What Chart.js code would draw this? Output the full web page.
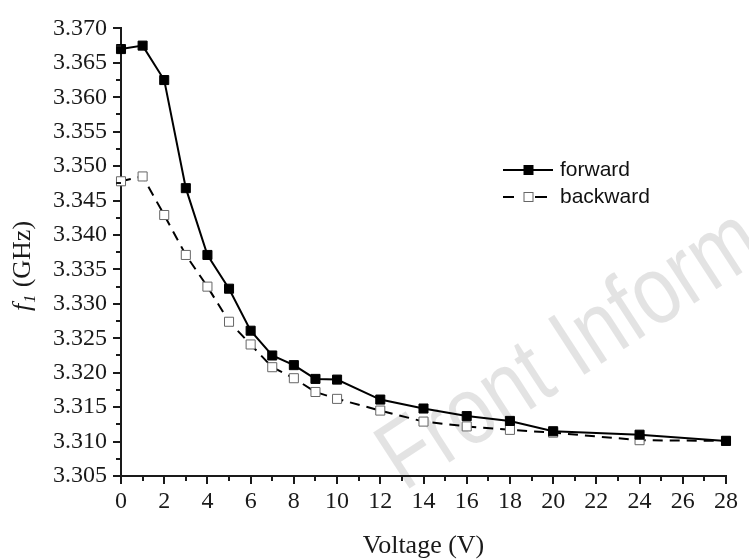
<!DOCTYPE html>
<html>
<head>
<meta charset="utf-8">
<script src="https://cdn.jsdelivr.net/npm/chart.js@4.4.1/dist/chart.umd.min.js"></script>
<style>
  html, body { margin: 0; padding: 0; background: #fff; }
  #wrap { width: 749px; height: 559px; position: relative; }
</style>
</head>
<body>
<div id="wrap"><canvas id="c" width="749" height="559"></canvas></div>
<script>
// Bias voltage (V)
const voltage = [0, 1, 2, 3, 4, 5, 6, 7, 8, 9, 10, 12, 14, 16, 18, 20, 24, 28];
// Resonance frequency f1 (GHz), forward sweep
const forward = [3.3670, 3.3675, 3.3625, 3.3468, 3.3371, 3.3322, 3.3261, 3.3225, 3.3211,
                 3.3191, 3.3190, 3.3161, 3.3148, 3.3137, 3.3130, 3.3115, 3.3110, 3.3101];
// Resonance frequency f1 (GHz), backward sweep
const backward = [3.3478, 3.3485, 3.3429, 3.3371, 3.3325, 3.3274, 3.3241, 3.3208, 3.3192,
                  3.3172, 3.3162, 3.3145, 3.3129, 3.3122, 3.3117, 3.3113, 3.3102, 3.3101];

const xTicks = [0, 2, 4, 6, 8, 10, 12, 14, 16, 18, 20, 22, 24, 26, 28];
const yTicks = [3.305, 3.310, 3.315, 3.320, 3.325, 3.330, 3.335, 3.340, 3.345, 3.350, 3.355, 3.360, 3.365, 3.370];
const seriesNames = ['forward', 'backward'];

const SERIF = '"Liberation Serif", "Times New Roman", serif';
const SANS = '"Liberation Sans", Arial, sans-serif';
const INK = '#1a1a1a';

const toPoints = (ys) => voltage.map((v, i) => ({ x: v, y: ys[i] }));

// Background, faint watermark, tick marks (major + minor), axis titles and legend
const decor = {
  id: 'decor',
  beforeDraw(chart) {
    const ctx = chart.ctx;
    ctx.save();
    ctx.fillStyle = '#fff';
    ctx.fillRect(0, 0, chart.width, chart.height);
    ctx.translate(404, 492);
    ctx.rotate(-33 * Math.PI / 180);
    ctx.scale(0.82, 1);
    ctx.font = '97px ' + SANS;
    ctx.fillStyle = 'rgba(0,0,0,0.11)';
    ctx.textBaseline = 'alphabetic';
    ctx.fillText('Front Inform', 0, 0);
    ctx.restore();
  },
  afterDraw(chart) {
    const ctx = chart.ctx;
    const xs = chart.scales.x, ys = chart.scales.y;
    const area = chart.chartArea;
    ctx.save();
    ctx.strokeStyle = INK;
    ctx.lineWidth = 2;
    // x ticks every 1 V, longer at labelled values
    for (let v = xs.min; v <= xs.max + 1e-9; v += 1) {
      const px = Math.round(xs.getPixelForValue(v));
      const len = (v % 2 === 0) ? 8 : 5;
      ctx.beginPath();
      ctx.moveTo(px, area.bottom);
      ctx.lineTo(px, area.bottom + len);
      ctx.stroke();
    }
    // y ticks every 0.0025 GHz, longer at labelled values
    const n = Math.round((ys.max - ys.min) / 0.0025);
    for (let i = 0; i <= n; i++) {
      const py = Math.round(ys.getPixelForValue(ys.min + i * 0.0025));
      const len = (i % 2 === 0) ? 8 : 5;
      ctx.beginPath();
      ctx.moveTo(area.left, py);
      ctx.lineTo(area.left - len, py);
      ctx.stroke();
    }

    // x-axis title
    ctx.fillStyle = INK;
    ctx.font = '26px ' + SERIF;
    ctx.textAlign = 'center';
    ctx.textBaseline = 'middle';
    ctx.fillText('Voltage (V)', (area.left + area.right) / 2, 546);

    // y-axis title: italic f with subscript 1, then (GHz)
    ctx.save();
    ctx.translate(21, 266);
    ctx.rotate(-Math.PI / 2);
    ctx.textBaseline = 'alphabetic';
    ctx.textAlign = 'left';
    const fMain = 'italic 26px ' + SERIF;
    const fSub = 'italic 16px ' + SERIF;
    const fRest = '26px ' + SERIF;
    ctx.font = fMain; const w1 = ctx.measureText('f').width;
    ctx.font = fSub; const w2 = ctx.measureText('1').width;
    ctx.font = fRest; const w3 = ctx.measureText(' (GHz)').width;
    let cx = -(w1 + w2 + 2 + w3) / 2;
    const base = 9;
    ctx.font = fMain; ctx.fillText('f', cx, base); cx += w1 + 1;
    ctx.font = fSub; ctx.fillText('1', cx, base + 5); cx += w2 + 1;
    ctx.font = fRest; ctx.fillText(' (GHz)', cx, base);
    ctx.restore();

    // legend: line sample with marker, then label
    const legendItems = [
      { label: seriesNames[0], y: 170, segs: [[503, 553]], fill: '#000', stroke: '#000' },
      { label: seriesNames[1], y: 197, segs: [[503, 514], [535, 547]], fill: '#fff', stroke: '#666' }
    ];
    legendItems.forEach((it) => {
      ctx.save();
      ctx.strokeStyle = '#000';
      ctx.lineWidth = 2;
      it.segs.forEach(([a, b]) => {
        ctx.beginPath();
        ctx.moveTo(a, it.y);
        ctx.lineTo(b, it.y);
        ctx.stroke();
      });
      ctx.fillStyle = it.fill;
      ctx.fillRect(524, it.y - 4.5, 9, 9);
      ctx.strokeStyle = it.stroke;
      ctx.lineWidth = 1;
      ctx.strokeRect(524, it.y - 4.5, 9, 9);
      ctx.fillStyle = '#111';
      ctx.font = '21px ' + SANS;
      ctx.textAlign = 'left';
      ctx.textBaseline = 'middle';
      ctx.fillText(it.label, 560, it.y);
      ctx.restore();
    });
    ctx.restore();
  }
};

new Chart(document.getElementById('c'), {
  type: 'line',
  data: {
    datasets: [
      {
        label: seriesNames[0],
        data: toPoints(forward),
        borderColor: '#000',
        borderWidth: 2,
        pointStyle: 'rect',
        pointRadius: 6.4,
        pointBackgroundColor: '#000',
        pointBorderColor: '#000',
        pointBorderWidth: 1,
        tension: 0,
        clip: false
      },
      {
        label: seriesNames[1],
        data: toPoints(backward),
        borderColor: '#000',
        borderWidth: 2,
        borderDash: [10, 7],
        pointStyle: 'rect',
        pointRadius: 6.4,
        pointBackgroundColor: '#fff',
        pointBorderColor: '#666',
        pointBorderWidth: 1,
        tension: 0,
        clip: false
      }
    ]
  },
  options: {
    responsive: false,
    animation: false,
    events: [],
    layout: { padding: { left: 0, right: 14, top: 20, bottom: 0 } },
    plugins: { legend: { display: false }, tooltip: { enabled: false }, title: { display: false } },
    scales: {
      x: {
        type: 'linear',
        min: 0,
        max: 28,
        afterFit: (s) => { s.height = 83; },
        afterBuildTicks: (s) => { s.ticks = xTicks.map((v) => ({ value: v })); },
        grid: { display: false, drawTicks: false, tickLength: 0 },
        border: { display: true, color: INK, width: 2 },
        ticks: {
          padding: 11,
          color: INK,
          font: { family: SERIF, size: 24 },
          maxRotation: 0,
          autoSkip: false
        }
      },
      y: {
        type: 'linear',
        min: 3.305,
        max: 3.370,
        afterFit: (s) => { s.width = 121; },
        afterBuildTicks: (s) => { s.ticks = yTicks.map((v) => ({ value: v })); },
        grid: { display: false, drawTicks: false, tickLength: 0 },
        border: { display: true, color: INK, width: 2 },
        ticks: {
          padding: 14,
          color: INK,
          font: { family: SERIF, size: 24 },
          autoSkip: false,
          callback: (v) => Number(v).toFixed(3)
        }
      }
    }
  },
  plugins: [decor]
});
</script>
</body>
</html>
